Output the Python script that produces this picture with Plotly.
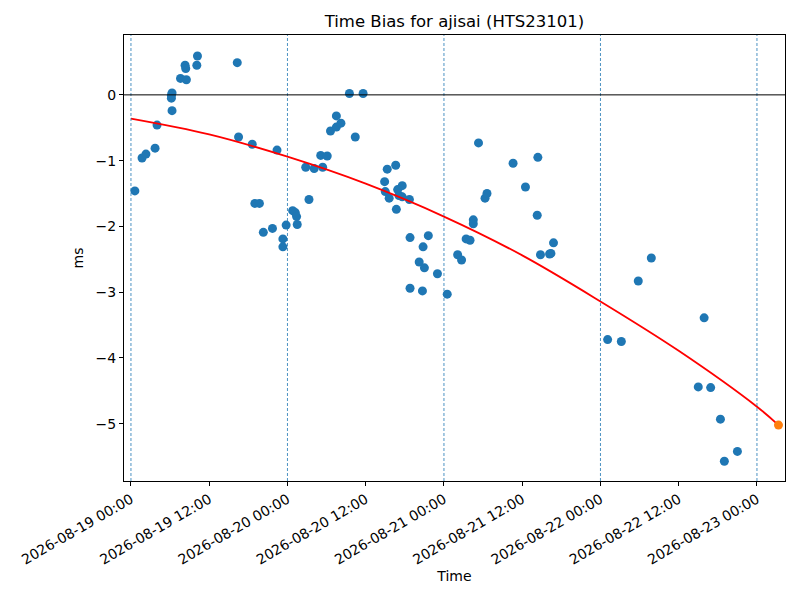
import pandas as pd
import plotly.graph_objects as go

# --- Messwerte: Stunden ab 2026-08-19 00:00, Zeitfehler in ms ---
start = pd.Timestamp("2026-08-19 00:00")

obs_hours = [
    0.6, 1.7, 2.3, 3.7, 4.0, 6.3, 6.2, 6.3, 6.2, 7.6, 8.5, 8.3, 8.4, 10.2, 10.1,
    16.3, 16.5, 18.6, 22.4, 19.0, 19.7, 20.3, 21.7, 23.3, 23.3, 23.8,
    24.8, 25.2, 25.4, 25.5, 27.3, 26.8, 28.1, 29.4, 29.1, 30.1, 30.6, 31.5, 32.2,
    31.5, 34.4, 33.5, 35.6, 39.3, 40.6, 38.9, 39.0, 39.6, 40.7, 40.9, 41.6, 41.1,
    41.6, 42.7, 42.8, 45.6, 44.8, 44.2, 45.0, 47.0, 42.8, 44.7,
    48.5, 51.4, 52.0, 50.1, 50.7, 52.5, 52.5, 53.3, 58.6, 62.4, 60.5, 54.3, 54.6,
    62.3, 64.8, 62.8, 64.4, 64.2,
    79.8, 77.8, 73.1, 75.2, 87.9, 87.0, 88.9, 90.4, 93.0, 91.0,
]
obs_bias = [
    -1.46, -0.96, -0.90, -0.81, -0.46, -0.24, -0.05, 0.03, -0.01, 0.25, 0.23, 0.45, 0.40, 0.59, 0.45,
    0.49, -0.64, -0.75, -0.84, -1.65, -1.65, -2.09, -2.03, -2.19, -2.31, -1.98,
    -1.76, -1.79, -1.85, -1.97, -1.59, -1.10, -1.12, -1.10, -0.92, -0.93, -0.55, -0.49, -0.43,
    -0.32, -0.64, 0.02, 0.02, -1.13, -1.07, -1.32, -1.47, -1.57, -1.74, -1.44, -1.38, -1.53,
    -1.55, -1.59, -2.17, -2.14, -2.31, -2.54, -2.63, -2.72, -2.94, -2.98,
    -3.03, -2.19, -2.21, -2.43, -2.51, -1.90, -1.96, -0.73, -1.04, -0.95, -1.40, -1.57, -1.50,
    -1.83, -2.25, -2.43, -2.41, -2.42,
    -2.48, -2.83, -3.72, -3.75, -3.39, -4.44, -4.45, -4.93, -5.42, -5.57,
]

# Ausgleichskurve
fit_hours = [0, 12, 24, 36, 48, 60, 72, 84, 96, 99.3]
fit_bias = [-0.36, -0.60, -0.94, -1.35, -1.85, -2.44, -3.14, -3.89, -4.74, -5.02]

# letzter Punkt (orange)
last_hours = [99.3]
last_bias = [-5.02]

day_lines = ["2026-08-19", "2026-08-20", "2026-08-21", "2026-08-22", "2026-08-23"]


def to_time(hours):
    return start + pd.to_timedelta(hours, unit="h")


fig = go.Figure()

for d in day_lines:
    fig.add_vline(x=pd.Timestamp(d), opacity=1,
                  line=dict(color="#1f77b4", width=0.8, dash="3px,2px"))
fig.add_hline(y=0, opacity=1, line=dict(color="black", width=1))

fig.add_trace(go.Scatter(
    x=to_time(obs_hours), y=obs_bias, mode="markers",
    marker=dict(color="#1f77b4", size=9), showlegend=False,
))
fig.add_trace(go.Scatter(
    x=to_time(fit_hours), y=fit_bias, mode="lines",
    line=dict(color="red", width=1.8, shape="spline"), showlegend=False,
))
fig.add_trace(go.Scatter(
    x=to_time(last_hours), y=last_bias, mode="markers",
    marker=dict(color="#ff7f0e", size=9), showlegend=False,
))

axis_style = dict(
    showline=True, linecolor="black", linewidth=1, mirror=True,
    ticks="outside", ticklen=4, tickcolor="black", showgrid=False, zeroline=False,
    tickfont=dict(size=14, color="black"), automargin=False,
)

# Seite hat 8px Rand -> Ränder entsprechend verkleinert
fig.update_layout(
    width=800, height=600,
    font=dict(family="DejaVu Sans", color="black"),
    title=dict(text="Time Bias for ajisai (HTS23101)", xref="paper", x=0.5, xanchor="center",
               y=1 - 13 / 600, yanchor="middle", font=dict(size=16.5)),
    margin=dict(l=116, r=23, t=27, b=127),
    plot_bgcolor="white", paper_bgcolor="white",
    showlegend=False,
)
fig.update_xaxes(
    **axis_style,
    title=dict(text="Time", font=dict(size=14), standoff=4),
    range=[pd.Timestamp("2026-08-18 22:56"), pd.Timestamp("2026-08-23 04:18")],
    tick0="2026-08-19 00:00", dtick=12 * 3600 * 1000,
    tickformat="%Y-%m-%d %H:%M", tickangle=-30,
)
fig.update_yaxes(
    **axis_style,
    title=dict(text="ms", font=dict(size=14), standoff=8),
    range=[-5.87, 0.91], dtick=1,
)

fig.write_html("out.html")
